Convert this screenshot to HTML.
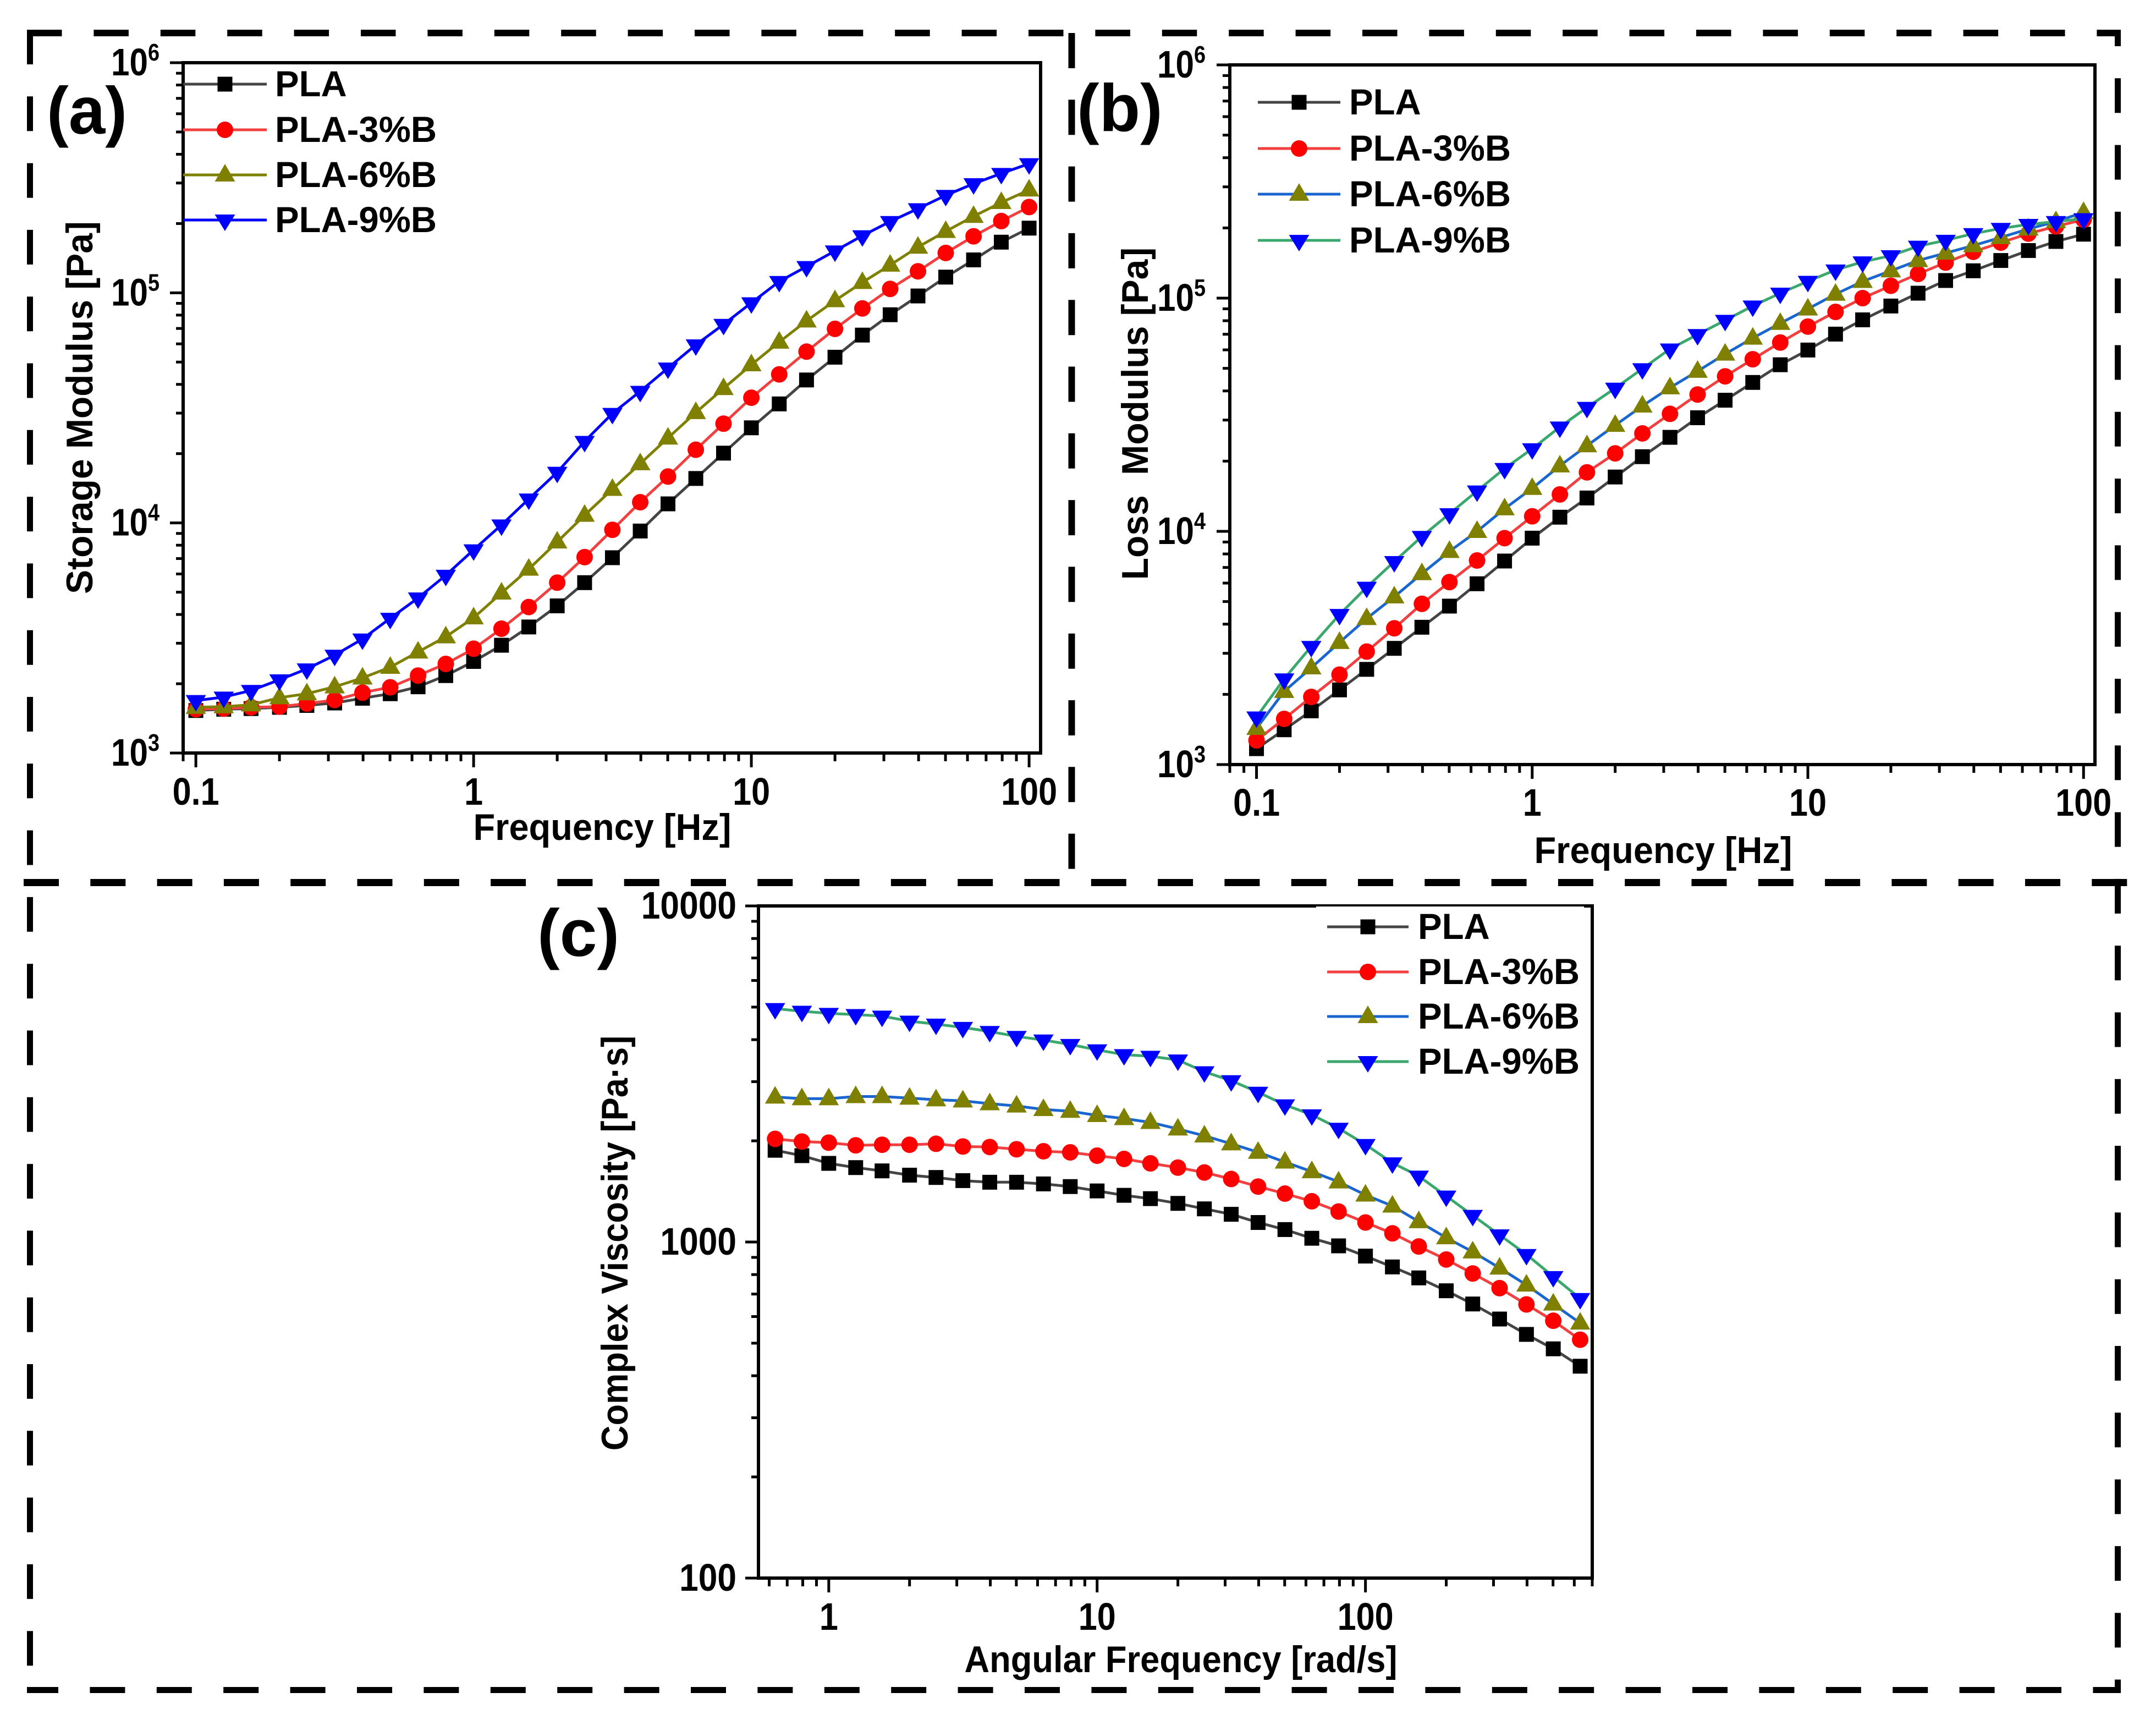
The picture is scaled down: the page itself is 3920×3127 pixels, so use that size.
<!DOCTYPE html>
<html lang="en">
<head>
<meta charset="utf-8">
<title>PLA rheology panels</title>
<style>
html,body{margin:0;padding:0;background:#fff;}
svg{display:block;}
text{font-family:"Liberation Sans",Arial,sans-serif;font-weight:bold;fill:#000;white-space:pre;}
</style>
</head>
<body>
<svg id="figure" xmlns="http://www.w3.org/2000/svg" width="3920" height="3127" viewBox="0 0 3920 3127">
<rect x="0" y="0" width="3920" height="3127" fill="#ffffff"/>
<line x1="49" y1="60" x2="3856" y2="60" stroke="#000" stroke-width="12" stroke-dasharray="63.5 57.9"/>
<line x1="54.5" y1="54" x2="54.5" y2="3040" stroke="#000" stroke-width="11" stroke-dasharray="63 58.3"/>
<line x1="3850.5" y1="54" x2="3850.5" y2="3078" stroke="#000" stroke-width="11" stroke-dasharray="63 58.3" stroke-dashoffset="33"/>
<line x1="49" y1="3072.5" x2="3856" y2="3072.5" stroke="#000" stroke-width="11" stroke-dasharray="64 57.4" stroke-dashoffset="7"/>
<line x1="43" y1="1604.5" x2="3869" y2="1604.5" stroke="#000" stroke-width="13" stroke-dasharray="64 57.3"/>
<line x1="1948.5" y1="60" x2="1948.5" y2="1585" stroke="#000" stroke-width="12" stroke-dasharray="64 57.3"/>
</svg>
<script>
var frequencyHz = [0.1,0.126,0.158,0.2,0.251,0.316,0.398,0.501,0.631,0.794,1,1.26,1.58,2,2.51,3.16,3.98,5.01,6.31,7.94,10,12.6,15.8,20,25.1,31.6,39.8,50.1,63.1,79.4,100];
var angularFrequency = [0.631,0.794,1,1.26,1.58,2,2.51,3.16,3.98,5.01,6.31,7.94,10,12.6,15.8,20,25.1,31.6,39.8,50.1,63.1,79.4,100,126,158,200,251,316,398,501,631];
var seriesNames = ["PLA","PLA-3%B","PLA-6%B","PLA-9%B"];

var storagePLA = [1530,1550,1560,1580,1610,1650,1730,1810,1940,2170,2500,2940,3530,4360,5500,7060,9220,12100,15600,20100,25900,32900,41800,52500,65500,80300,96900,117000,139000,166000,191000];
var storage3 = [1550,1560,1580,1590,1640,1700,1830,1930,2170,2440,2840,3470,4310,5500,7100,9330,12300,15900,20800,27000,35000,44200,55500,69700,85500,104000,124000,149000,176000,205000,236000];
var storage6 = [1580,1590,1620,1740,1810,1940,2120,2360,2750,3200,3870,4960,6300,8270,10800,14000,18100,23400,30200,38400,48700,61100,75500,92500,111000,132000,158000,185000,215000,247000,280000];
var storage9 = [1690,1750,1870,2080,2320,2660,3130,3850,4720,5920,7640,9800,12700,16600,22600,29900,37300,47100,59400,72900,90500,112000,130000,152000,177000,204000,232000,265000,298000,330000,364000];

var lossPLA = [1170,1410,1700,2090,2560,3150,3880,4780,5960,7460,9350,11500,13900,17100,20900,25300,30700,36500,43500,51800,59900,70100,80700,92500,105000,119000,131000,145000,160000,175000,188000];
var loss3 = [1270,1570,1950,2430,3050,3840,4890,6060,7500,9350,11600,14400,17900,21600,26300,31900,38600,46200,54700,64500,75500,87300,100000,113000,127000,142000,158000,173000,189000,203000,217000];
var loss6 = [1430,2060,2600,3340,4230,5240,6590,8210,10000,12500,15300,19100,23300,28500,34500,41300,48600,57600,67400,78000,89900,104000,118000,131000,145000,156000,168000,182000,198000,213000,233000];
var loss9 = [1600,2330,3210,4400,5760,7420,9510,11900,14900,18600,22600,28000,34000,41100,49800,60500,69800,80300,92500,105000,118000,132000,143000,152000,167000,177000,189000,199000,207000,213000,219000];

var viscosityPLA = [1875,1807,1714,1665,1628,1581,1556,1523,1506,1506,1489,1462,1419,1377,1346,1303,1255,1209,1143,1089,1026,974,908,843,782,716,654,590,531,481,427];
var viscosity3 = [2027,1990,1975,1939,1947,1947,1960,1924,1917,1888,1862,1848,1807,1767,1714,1665,1610,1540,1462,1393,1322,1232,1143,1061,970,887,806,729,652,583,512];
var viscosity6 = [2700,2670,2670,2710,2710,2680,2650,2630,2580,2540,2480,2450,2380,2330,2270,2170,2070,1960,1850,1730,1620,1510,1380,1280,1150,1030,935,837,745,654,574];
var viscosity9 = [4950,4860,4790,4750,4700,4540,4450,4350,4230,4090,3990,3870,3730,3610,3570,3480,3210,3020,2790,2560,2390,2180,1950,1720,1570,1370,1200,1050,918,789,679];

var freqTickValues = [0.1,1,10,100];
var freqTickLabels = ["0.1","1","10","100"];
var angTickValues = [1,10,100];
var angTickLabels = ["1","10","100"];
var moduliTickValues = [1000,10000,100000,1000000];
var moduliTickExponents = ["3","4","5","6"];
var viscTickValues = [100,1000,10000];
var viscTickLabels = ["100","1000","10000"];

var NS = "http://www.w3.org/2000/svg";
var root = document.getElementById("figure");

function make(tag, parent, name, attrs) {
  var el = document.createElementNS(NS, tag);
  
  
  for (var k in attrs) { el.setAttribute(k, attrs[k]); }
  parent.appendChild(el);
  return el;
}

function label(parent, name, str, x, y, size, anchor, sx, rot) {
  var t = "translate(" + x + " " + y + ")";
  if (rot) { t += " rotate(" + rot + ")"; }
  t += " scale(" + (sx || 1) + " 1)";
  var el = make("text", parent, name, {"font-size": size, "text-anchor": anchor || "start", "transform": t});
  el.textContent = str;
  return el;
}

function drawMarker(parent, name, kind, x, y, color) {
  if (kind === "square") {
    make("rect", parent, name, {x: x - 13.5, y: y - 13.5, width: 27, height: 27, fill: color});
  } else if (kind === "circle") {
    make("circle", parent, name, {cx: x, cy: y, r: 15, fill: color});
  } else if (kind === "up") {
    make("polygon", parent, name, {points: (x - 18.5) + "," + (y + 12) + " " + x + "," + (y - 20) + " " + (x + 18.5) + "," + (y + 12), fill: color});
  } else {
    make("polygon", parent, name, {points: (x - 18.5) + "," + (y - 10) + " " + x + "," + (y + 20) + " " + (x + 18.5) + "," + (y - 10), fill: color});
  }
}

var markerKinds = ["square","circle","up","down"];
var markerColors = ["#000000","#ff0000","#808000","#0000ff"];

function drawPanel(p) {
  var g = make("g", root, "panel-" + p.id, {});
  var sx = (p.right - p.left) / (Math.log10(p.xmax) - Math.log10(p.xmin));
  var sy = (p.bottom - p.top) / (Math.log10(p.ymax) - Math.log10(p.ymin));
  function X(v) { return p.left + (Math.log10(v) - Math.log10(p.xmin)) * sx; }
  function Y(v) { return p.bottom - (Math.log10(v) - Math.log10(p.ymin)) * sy; }

  var d;
  var axes = make("g", g, "axes-" + p.id, {stroke: "#000", "stroke-width": 5});
  for (d = Math.floor(Math.log10(p.xmin)); d <= Math.ceil(Math.log10(p.xmax)); d++) {
    for (var m = 1; m < 10; m++) {
      var xv = m * Math.pow(10, d);
      if (xv < p.xmin * 0.999 || xv > p.xmax * 1.001) { continue; }
      make("line", axes, m === 1 ? "x-major-tick" : "x-minor-tick", {x1: X(xv), x2: X(xv), y1: p.bottom, y2: p.bottom + (m === 1 ? 26 : 15)});
    }
  }
  for (d = Math.round(Math.log10(p.ymin)); d <= Math.round(Math.log10(p.ymax)); d++) {
    for (var n = 1; n < 10; n++) {
      var yv = n * Math.pow(10, d);
      if (yv > p.ymax * 1.001) { continue; }
      make("line", axes, n === 1 ? "y-major-tick" : "y-minor-tick", {x1: p.left, x2: p.left - (n === 1 ? 24 : 13), y1: Y(yv), y2: Y(yv)});
    }
  }
  make("rect", g, "plot-frame-" + p.id, {x: p.left, y: p.top, width: p.right - p.left, height: p.bottom - p.top, fill: "none", stroke: "#000", "stroke-width": 6});

  p.xTicks.forEach(function (v, i) {
    label(g, "x-tick-label", p.xLabels[i], X(v), p.xLabelY, 70, "middle", 0.874);
  });
  p.yTicks.forEach(function (v, i) {
    if (p.yExps) {
      var el = label(g, "y-tick-label", "10", p.yLabelX, Y(v) + 23, 70, "end", 0.86);
      var sup = document.createElementNS(NS, "tspan");
      
      
      sup.setAttribute("font-size", "44");
      sup.setAttribute("dy", "-27");
      sup.textContent = p.yExps[i];
      el.appendChild(sup);
    } else {
      label(g, "y-tick-label", p.yLabels[i], p.yLabelX, Y(v) + 23, 70, "end", 0.89);
    }
  });
  label(g, "x-axis-title", p.xTitle, p.xTitleX, p.xTitleY, 68, "middle", p.xTitleSx);
  label(g, "y-axis-title", p.yTitle, p.yTitleX, p.yTitleY, 68, "middle", p.yTitleSx, -90);

  p.series.forEach(function (vals, si) {
    var sg = make("g", g, "series-" + seriesNames[si].toLowerCase().replace("%", "pct"), {});
    var pts = vals.map(function (v, i) { return X(p.xs[i]).toFixed(1) + "," + Y(v).toFixed(1); }).join(" ");
    make("polyline", sg, "series-line", {points: pts, fill: "none", stroke: p.lineColors[si], "stroke-width": 5});
    vals.forEach(function (v, i) {
      drawMarker(sg, "data-point", markerKinds[si], X(p.xs[i]), Y(v), markerColors[si]);
    });
  });

  var lg = make("g", g, "legend-" + p.id, {});
  if (p.legendMask) {
    make("rect", lg, "legend-background", {x: p.legendMask[0], y: p.legendMask[1], width: p.legendMask[2], height: p.legendMask[3], fill: "#fff"});
  }
  seriesNames.forEach(function (nm, si) {
    var y = p.legendY[si];
    var entry = make("g", lg, "legend-entry", {});
    make("line", entry, "legend-line", {x1: p.legendX[0], x2: p.legendX[1], y1: y, y2: y, stroke: p.lineColors[si], "stroke-width": 5});
    drawMarker(entry, "legend-marker", markerKinds[si], (p.legendX[0] + p.legendX[1]) / 2, y, markerColors[si]);
    label(entry, "legend-label", nm, p.legendX[2], y + 22, 66, "start", 0.99);
  });

  label(g, "panel-label", p.tag, p.tagX, p.tagY, 122, "start", p.tagSx);
}

drawPanel({
  id: "a", tag: "(a)", tagX: 85, tagY: 243, tagSx: 0.98,
  left: 333, right: 1892, top: 114, bottom: 1369, xmin: 0.09, xmax: 110, ymin: 1000, ymax: 1000000,
  xs: frequencyHz, series: [storagePLA, storage3, storage6, storage9],
  lineColors: ["#444444","#f24040","#808000","#0000ff"],
  xTicks: freqTickValues, xLabels: freqTickLabels, xLabelY: 1463,
  yTicks: moduliTickValues, yExps: moduliTickExponents, yLabelX: 290,
  xTitle: "Frequency [Hz]", xTitleSx: 0.955, xTitleX: 1095, xTitleY: 1527,
  yTitle: "Storage Modulus [Pa]", yTitleSx: 0.97, yTitleX: 168, yTitleY: 741,
  legendX: [333, 485, 500], legendY: [153, 236, 318, 400]
});

drawPanel({
  id: "b", tag: "(b)", tagX: 1958, tagY: 238, tagSx: 1,
  left: 2236, right: 3809, top: 118, bottom: 1390, xmin: 0.08, xmax: 110, ymin: 1000, ymax: 1000000,
  xs: frequencyHz, series: [lossPLA, loss3, loss6, loss9],
  lineColors: ["#444444","#f24040","#1a66d0","#3aa76d"],
  xTicks: freqTickValues, xLabels: freqTickLabels, xLabelY: 1483,
  yTicks: moduliTickValues, yExps: moduliTickExponents, yLabelX: 2192,
  xTitle: "Frequency [Hz]", xTitleSx: 0.955, xTitleX: 3024, xTitleY: 1569,
  yTitle: "Loss  Modulus [Pa]", yTitleSx: 0.97, yTitleX: 2087, yTitleY: 752,
  legendX: [2287, 2437, 2453], legendY: [186, 270, 353, 437]
});

drawPanel({
  id: "c", tag: "(c)", tagX: 977, tagY: 1738, tagSx: 1,
  left: 1379, right: 2895, top: 1647, bottom: 2869, xmin: 0.547, xmax: 700, ymin: 100, ymax: 10000,
  xs: angularFrequency, series: [viscosityPLA, viscosity3, viscosity6, viscosity9],
  lineColors: ["#444444","#f24040","#1a66d0","#3aa76d"],
  xTicks: angTickValues, xLabels: angTickLabels, xLabelY: 2963,
  yTicks: viscTickValues, yLabels: viscTickLabels, yLabelX: 1339,
  xTitle: "Angular Frequency [rad/s]", xTitleSx: 0.93, xTitleX: 2147, xTitleY: 3040,
  yTitle: "Complex Viscosity [Pa·s]", yTitleSx: 0.93, yTitleX: 1141, yTitleY: 2260,
  legendX: [2413, 2561, 2578], legendY: [1685, 1767, 1848, 1930],
  legendMask: [2393, 1648, 487, 320]
});
</script>
</body>
</html>
